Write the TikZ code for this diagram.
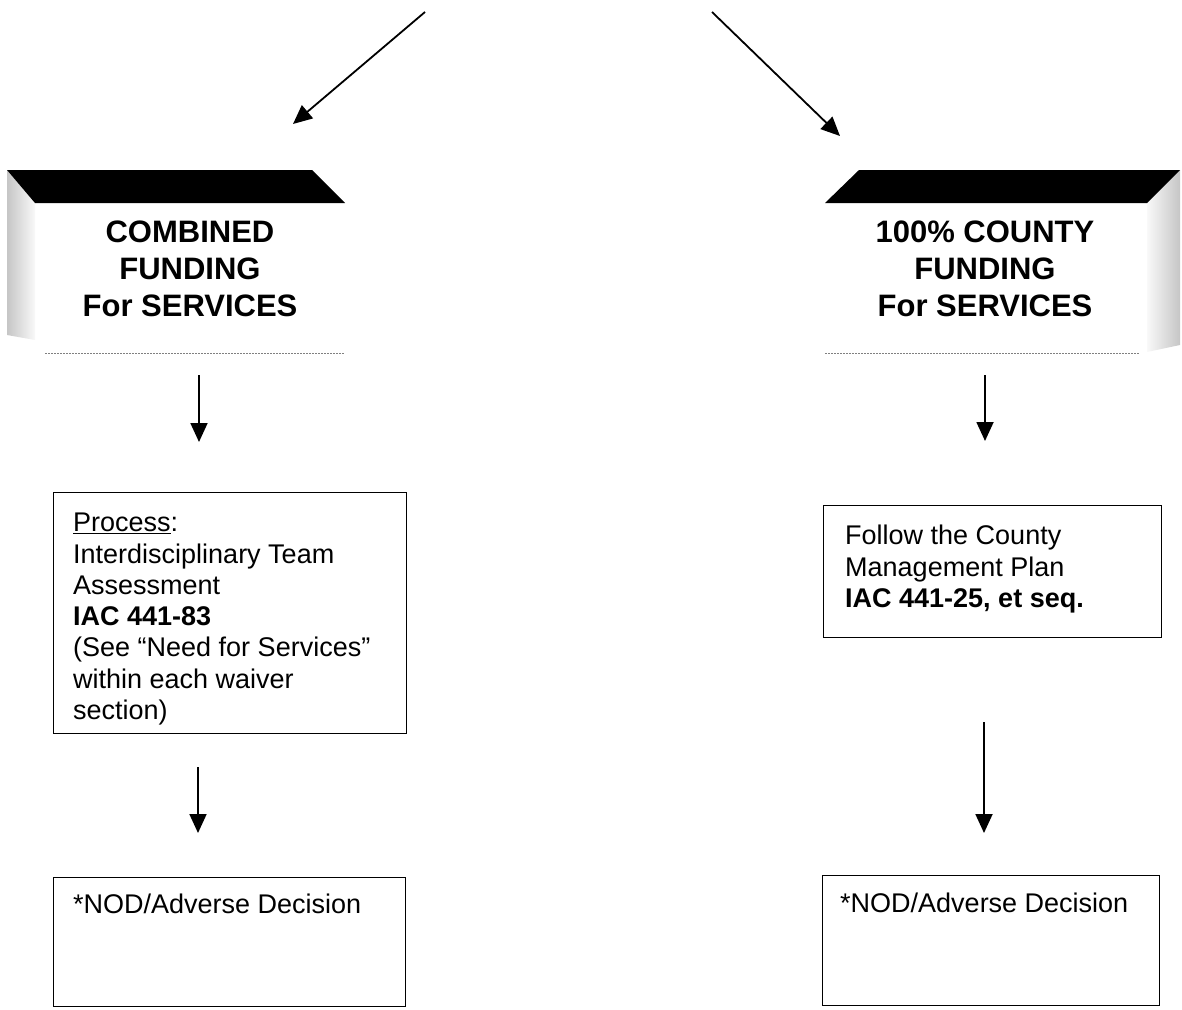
\documentclass[tikz,border=0pt]{standalone}
\usepackage{fontspec}
\setmainfont{Liberation Sans}
\usetikzlibrary{arrows.meta}
\begin{document}
\begin{tikzpicture}[x=1pt,y=-1pt,
  arr/.style={line width=1.8pt,-{Triangle[width=17pt,length=19pt]}},
  box/.style={draw,line width=1.4pt,inner sep=0pt,anchor=north west},
  body/.style={font=\fontsize{27}{31.3}\selectfont,align=left,anchor=north west,inner sep=0pt},
  head/.style={font=\fontsize{31}{37}\selectfont\bfseries,align=center,inner sep=0pt},
  band/.style={fill=black},
  dots/.style={draw=gray,line width=0.8pt,dash pattern=on 1.5pt off 1.5pt}]
\useasboundingbox (0,0) rectangle (1182,1009);
% ---- bevel box left
\shade[left color=gray!45,right color=gray!5] (7,170) -- (35,203) -- (35,340) -- (7,335) -- cycle;
\fill[band] (7,170) -- (312,170) -- (345,203) -- (35,203) -- cycle;
\draw[dots] (45,353) -- (345,353);
\node[head] (lhead) at (190,269) {COMBINED\\FUNDING\\For SERVICES};
% ---- bevel box right
\shade[left color=gray!5,right color=gray!45] (1147,203) -- (1180,170) -- (1180,345) -- (1147,352) -- cycle;
\fill[band] (859,170) -- (1180,170) -- (1147,203) -- (825,203) -- cycle;
\draw[dots] (825,353) -- (1140,353);
\node[head] (rhead) at (985,269) {100\% COUNTY\\FUNDING\\For SERVICES};
% ---- boxes
\node[box,minimum width=353pt,minimum height=241pt] (lproc) at (53,492) {};
\node[body] (lproct) at (73,513) {\underline{Process}:\\Interdisciplinary Team\\Assessment\\\textbf{IAC 441-83}\\(See “Need for Services”\\within each waiver\\section)};
\node[box,minimum width=338pt,minimum height=132pt] (rproc) at (823,505) {};
\node[body] (rproct) at (845,525) {Follow the County\\Management Plan\\\textbf{IAC 441-25, et seq.}};
\node[box,minimum width=352pt,minimum height=129pt] (lnod) at (53,877) {};
\node[body] (lnodt) at (73,894) {*NOD/Adverse Decision};
\node[box,minimum width=337pt,minimum height=130pt] (rnod) at (822,875) {};
\node[body] (rnodt) at (840,893) {*NOD/Adverse Decision};
% ---- connectors
\coordinate (ltop) at (425,12);
\coordinate (lend) at (293,124);
\coordinate (rtop) at (712,12);
\coordinate (rend) at (840,136);
\draw[arr] (ltop) -- (lend);
\draw[arr] (rtop) -- (rend);
\coordinate (a1s) at (199,375);
\coordinate (a1e) at (199,442);
\coordinate (a2s) at (198,767);
\coordinate (a2e) at (198,833);
\coordinate (a3s) at (985,375);
\coordinate (a3e) at (985,441);
\coordinate (a4s) at (984,722);
\coordinate (a4e) at (984,833);
\draw[arr] (a1s) -- (a1e);
\draw[arr] (a2s) -- (a2e);
\draw[arr] (a3s) -- (a3e);
\draw[arr] (a4s) -- (a4e);
\end{tikzpicture}
\end{document}
